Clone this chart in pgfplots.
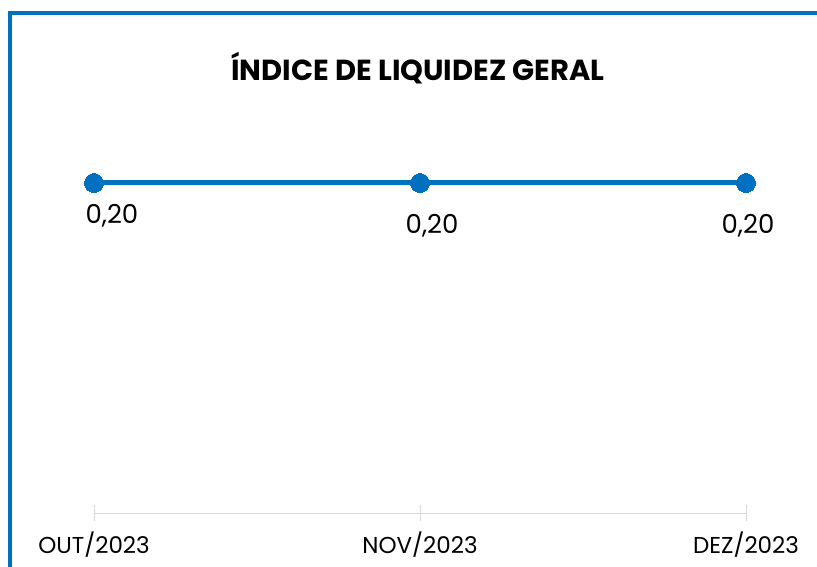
\documentclass[border=0pt]{standalone}
\usepackage{pgfplots}
\pgfplotsset{compat=1.18}
\usepackage{fontspec}
\setmainfont{Poppins}
\definecolor{cblue}{HTML}{0070C0}
\definecolor{cgray}{HTML}{D9D9D9}
\begin{document}
\begin{tikzpicture}
\path[use as bounding box] (0,0) rectangle (817bp,567bp);
\draw[cblue, line width=4bp] (10bp,0) -- (10bp,553.5bp) -- (817bp,553.5bp);
\node[font=\bfseries\fontsize{29bp}{33bp}\selectfont, text=black] at (418bp,499bp) {ÍNDICE DE LIQUIDEZ GERAL};
\begin{axis}[
  at={(94bp,54bp)}, anchor=origin,
  scale only axis, width=652bp, height=330bp,
  xmin=0, xmax=2, ymin=0, ymax=0.2,
  clip=false,
  axis x line=bottom, axis y line=none,
  axis line style={cgray, line width=1bp, -},
  xtick={0,1,2},
  xticklabels={OUT/2023,NOV/2023,DEZ/2023},
  major tick length=15bp, tick align=center,
  tick style={cgray, line width=1bp},
  xticklabel style={font=\fontsize{23bp}{26bp}\selectfont, text=black, yshift=-8bp},
  ytick=\empty,
]
\addplot[cblue, line width=5bp, mark=*, mark size=9.5bp, mark options={fill=cblue, draw=cblue, line width=0bp}] coordinates {(0,0.2) (1,0.2) (2,0.2)};
\node[font=\fontsize{26bp}{29bp}\selectfont] at (axis cs:0.055,0.2) [yshift=-33bp] {0,20};
\node[font=\fontsize{26bp}{29bp}\selectfont] at (axis cs:1.037,0.2) [yshift=-43bp] {0,20};
\node[font=\fontsize{26bp}{29bp}\selectfont] at (axis cs:2.006,0.2) [yshift=-43bp] {0,20};
\end{axis}
\end{tikzpicture}
\end{document}
